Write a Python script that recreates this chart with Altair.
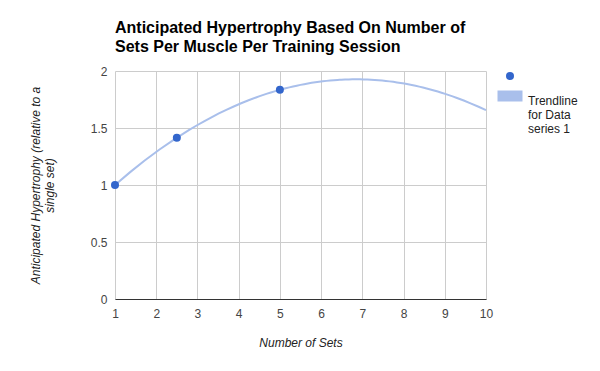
import altair as alt
import pandas as pd

# Data
sets = [1, 2.5, 5]
hypertrophy = [1.0, 1.415, 1.835]
series_names = [" ", "Trendline|for Data|series 1"]
series_colors = ["#3366cc", "#a9bfeb"]
x_ticks = [1, 2, 3, 4, 5, 6, 7, 8, 9, 10]
y_ticks = [0, 0.5, 1, 1.5, 2]

title_lines = ["Anticipated Hypertrophy Based On Number of",
               "Sets Per Muscle Per Training Session"]
y_title = ["Anticipated Hypertrophy (relative to a", "single set)"]
x_title = "Number of Sets"

df = pd.DataFrame({"x": sets, "y": hypertrophy, "series": [series_names[0]] * len(sets)})

FONT = "Liberation Sans"

x_enc = alt.X("x:Q",
              scale=alt.Scale(domain=[1, 10], nice=False, zero=False),
              axis=alt.Axis(values=x_ticks, title=x_title, grid=True, gridColor="#cccccc",
                            domainColor="#333333", domainWidth=1, ticks=False,
                            labelFlush=False,
                            labelPadding=9, labelColor="#444444", labelFontSize=12,
                            titleFontSize=12, titleFontStyle="italic", titleFontWeight="normal",
                            titleColor="#222222", titlePadding=18))
y_enc = alt.Y("y:Q",
              scale=alt.Scale(domain=[0, 2], nice=False),
              axis=alt.Axis(values=y_ticks, format="~g", title=y_title, grid=True,
                            gridColor="#cccccc", domain=False, ticks=False,
                            labelFlush=False,
                            labelPadding=8, labelColor="#444444", labelFontSize=12,
                            titleFontSize=12, titleFontStyle="italic", titleFontWeight="normal",
                            titleColor="#222222", titlePadding=34))

trend = alt.Chart(df).transform_regression(
    "x", "y", method="poly", order=2, extent=[1, 10]
).mark_line(color=series_colors[1], strokeWidth=2).encode(x=x_enc, y=y_enc)

rect_path = "M-3.125,-1.375H3.125V1.375H-3.125Z"

points = alt.Chart(df).mark_point(filled=True, size=64, opacity=1).encode(
    x=alt.X("x:Q"),
    y=alt.Y("y:Q"),
    color=alt.Color("series:N",
                    scale=alt.Scale(domain=series_names, range=series_colors),
                    legend=alt.Legend(title=None, orient="none", legendX=389, legendY=-1,
                                      labelExpr="split(datum.label, '|')",
                                      labelFontSize=12, labelColor="#222222",
                                      labelBaseline="top", labelOffset=12,
                                      symbolSize=64, symbolStrokeWidth=0,
                                      rowPadding=3, labelLimit=200)),
    shape=alt.Shape("series:N",
                    scale=alt.Scale(domain=series_names, range=["circle", rect_path])),
)

chart = alt.layer(trend, points).properties(
    width=371, height=228,
    title=alt.TitleParams(text=title_lines, anchor="start", frame="group",
                          fontSize=16, fontWeight="bold", color="#000000",
                          font=FONT, offset=10, lineHeight=19),
    autosize=alt.AutoSizeParams(type="none"),
    padding={"left": 107, "top": 63, "right": 106, "bottom": 64},
).configure(font=FONT).configure_view(strokeWidth=0)

chart.save("out.html", embed_options={"renderer": "svg", "actions": False})
